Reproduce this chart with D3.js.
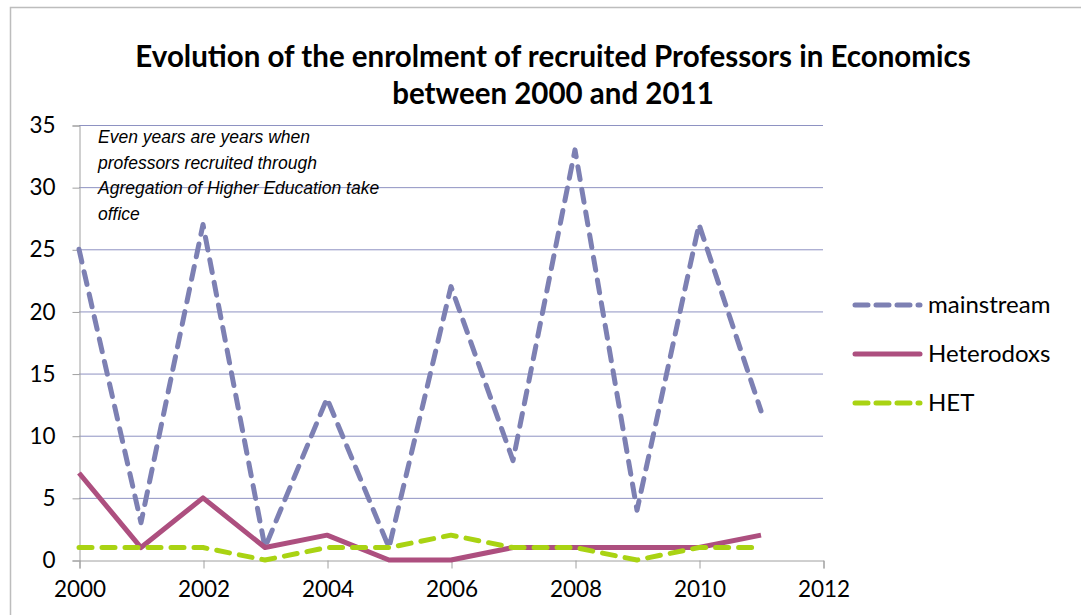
<!DOCTYPE html>
<html><head><meta charset="utf-8">
<script src="https://cdn.jsdelivr.net/npm/d3@7"></script>
<style>body{margin:0;background:#fff}svg{display:block}</style>
</head><body><svg id="c" width="1081" height="615"></svg>
<script>
const years = [2000,2001,2002,2003,2004,2005,2006,2007,2008,2009,2010,2011];
const mainstream = [25,3,27,1,13,1,22,8,33,4,27,12];
const heterodoxs = [7,1,5,1,2,0,0,1,1,1,1,2];
const het = [1,1,1,0,1,1,2,1,1,0,1,1];
const seriesNames = ["mainstream","Heterodoxs","HET"];
const xTicks = [2000,2002,2004,2006,2008,2010,2012];
const yTicks = [0,5,10,15,20,25,30,35];
const titleLines = ["Evolution of the enrolment of recruited Professors in Economics","between 2000 and 2011"];
const noteLines = ["Even years are years when","professors recruited through","Agregation of Higher Education take","office"];

const svg = d3.select("#c");
const font = "Lato, 'Open Sans', sans-serif";
svg.append("path").attr("d","M10.5,615 V7.5 H1081").attr("fill","none").attr("stroke","#bdbdbd").attr("stroke-width",1.5);

const x = d3.scaleLinear().domain([2000,2012]).range([79,823]);
const y = d3.scaleLinear().domain([0,35]).range([560,125]);

svg.append("g").selectAll("line").data(yTicks.filter(d=>d>0)).join("line")
  .attr("x1",79).attr("x2",823).attr("y1",d=>y(d)+0.5).attr("y2",d=>y(d)+0.5)
  .attr("stroke","#8e92c2").attr("stroke-width",1);

const ya = svg.append("g").attr("transform","translate(79.5,0.5)")
  .call(d3.axisLeft(y).tickValues(yTicks).tickSize(7).tickPadding(17).tickFormat(d3.format("d")));
ya.select(".domain").attr("stroke","#a0a0a0");
ya.selectAll(".tick line").attr("stroke","#a0a0a0");
ya.selectAll("text").attr("font-family",font).attr("font-size",22.5).attr("fill","#000");

const xa = svg.append("g").attr("transform","translate(0.5,560.5)")
  .call(d3.axisBottom(x).tickValues(xTicks).tickSize(8).tickPadding(13).tickFormat(d3.format("d")));
xa.select(".domain").attr("stroke","#a0a0a0");
xa.selectAll(".tick line").attr("stroke","#a0a0a0");
xa.selectAll("text").attr("font-family",font).attr("font-size",22.5).attr("fill","#000");

const line = d3.line().x((d,i)=>x(years[i])).y(d=>y(d));
const styles = [
  {data:mainstream,color:"#7d80b3",dash:"13,10",w:5},
  {data:heterodoxs,color:"#ad4f7f",dash:null,w:5},
  {data:het,color:"#a9d313",dash:"13,10",w:5}
];
styles.forEach(s=>{
  svg.append("path").datum(s.data).attr("d",line).attr("fill","none")
    .attr("stroke",s.color).attr("stroke-width",s.w)
    .attr("stroke-dasharray",s.dash).attr("stroke-linecap",s.dash?"round":"butt")
    .attr("stroke-linejoin","round");
});

svg.append("text").attr("text-anchor","middle")
  .attr("font-family",font).attr("font-weight","bold").attr("font-size",29.5).attr("fill","#000")
  .selectAll("tspan").data(titleLines).join("tspan")
  .attr("x",553).attr("y",(d,i)=>67+i*37).text(d=>d);

svg.append("text").attr("font-family","'Liberation Sans', Arial, sans-serif").attr("font-style","italic")
  .attr("font-size",17.5).attr("fill","#000")
  .selectAll("tspan").data(noteLines).join("tspan")
  .attr("x",98).attr("y",(d,i)=>143+i*25.5).text(d=>d);

const lg = svg.append("g");
seriesNames.forEach((n,i)=>{
  const yy = 305 + i*49;
  lg.append("line").attr("x1",855).attr("x2",920).attr("y1",yy).attr("y2",yy)
    .attr("stroke",styles[i].color).attr("stroke-width",5)
    .attr("stroke-dasharray",styles[i].dash?"13,8":null).attr("stroke-linecap","round");
  lg.append("text").attr("x",928).attr("y",yy+8).attr("font-family",font).attr("font-size",24)
    .attr("fill","#000").text(n);
});
</script></body></html>
